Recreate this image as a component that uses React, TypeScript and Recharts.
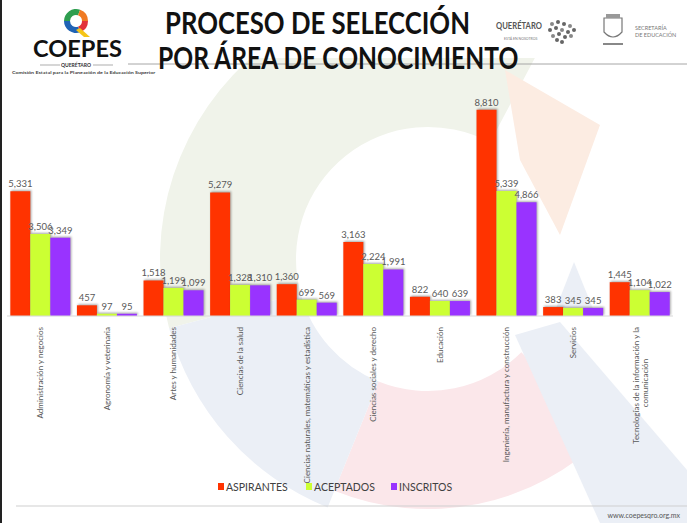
import React from 'react';
import { BarChart, Bar, XAxis, YAxis, LabelList } from 'recharts';

const categories = [
  'Administración y negocios',
  'Agronomía y veterinaria',
  'Artes y humanidades',
  'Ciencias de la salud',
  'Ciencias naturales, matemáticas y estadística',
  'Ciencias sociales y derecho',
  'Educación',
  'Ingeniería, manufactura y construcción',
  'Servicios',
  'Tecnologías de la información y la comunicación',
];
const aspirantes = [5331, 457, 1518, 5279, 1360, 3163, 822, 8810, 383, 1445];
const aceptados = [3506, 97, 1199, 1328, 699, 2224, 640, 5339, 345, 1104];
const inscritos = [3349, 95, 1099, 1310, 569, 1991, 639, 4866, 345, 1022];
const seriesNames = ['ASPIRANTES', 'ACEPTADOS', 'INSCRITOS'];
const seriesColors = ['#FF3300', '#CCFF33', '#9933FF'];
const wrappedLabels: Record<string, string[]> = {
  'Tecnologías de la información y la comunicación': ['Tecnologías de la información y la', 'comunicación'],
};

const data = categories.map((c, i) => ({
  cat: c,
  aspirantes: aspirantes[i],
  aceptados: aceptados[i],
  inscritos: inscritos[i],
}));
const keys = ['aspirantes', 'aceptados', 'inscritos'];

const FONT = 'Lato, "Open Sans", sans-serif';

let measureCtx: CanvasRenderingContext2D | null = null;
function measure(text: string, size: number, weight: number) {
  if (!measureCtx) {
    const c = document.createElement('canvas');
    measureCtx = c.getContext('2d');
  }
  if (!measureCtx) return text.length * size * 0.6;
  measureCtx.font = `${weight} ${size}px Lato, "Open Sans", sans-serif`;
  return measureCtx.measureText(text).width;
}

const FitText = ({ x, y, width, size, weight = 400, fill, children }: any) => {
  const natural = measure(children, size, weight);
  const sx = natural > 0 ? width / natural : 1;
  return (
    <text transform={`translate(${x},${y}) scale(${sx},1)`} fontSize={size} fontWeight={weight} fill={fill} fontFamily={FONT}>
      {children}
    </text>
  );
};

const CatTick = (props: any) => {
  const { x, y, payload } = props;
  const lines = wrappedLabels[payload.value];
  const ty = y + 3;
  if (lines) {
    return (
      <g>
        <text transform={`translate(${x - 4},${ty}) rotate(-90)`} textAnchor="end" dy="0.35em" fontSize={8} fill="#595959" fontFamily={FONT}>{lines[0]}</text>
        <text transform={`translate(${x + 5},${ty + 56}) rotate(-90)`} textAnchor="middle" dy="0.35em" fontSize={8} fill="#595959" fontFamily={FONT}>{lines[1]}</text>
      </g>
    );
  }
  return (
    <text transform={`translate(${x},${ty}) rotate(-90)`} textAnchor="end" dy="0.35em" fontSize={8} fill="#595959" fontFamily={FONT}>{payload.value}</text>
  );
};

const fmt = (v: any) => Number(v).toLocaleString('en-US');

function sector(cx: number, cy: number, r1: number, r2: number, a0: number, a1: number) {
  const rad = (a: number) => (a * Math.PI) / 180;
  const p = (r: number, a: number) => [cx + r * Math.cos(rad(a)), cy + r * Math.sin(rad(a))];
  const [x0, y0] = p(r2, a0);
  const [x1, y1] = p(r2, a1);
  const [x2, y2] = p(r1, a1);
  const [x3, y3] = p(r1, a0);
  const large = a1 - a0 > 180 ? 1 : 0;
  return `M${x0},${y0} A${r2},${r2} 0 ${large} 1 ${x1},${y1} L${x2},${y2} A${r1},${r1} 0 ${large} 0 ${x3},${y3} Z`;
}

export default function App() {
  return (
    <div style={{ position: 'absolute', left: 0, top: 0, width: 687, height: 523, background: '#fff', overflow: 'hidden', fontFamily: FONT }}>
      <style>{`.recharts-bar-rectangle path { filter: drop-shadow(1px -1px 1px rgba(0,0,0,0.35)); }`}</style>
      {/* watermark */}
      <svg width={687} height={523} style={{ position: 'absolute', left: 0, top: 0 }}>
        <defs>
          <clipPath id="wm">
            <rect x={0} y={58} width={687} height={465} />
          </clipPath>
        </defs>
        <g clipPath="url(#wm)">
          <path d={sector(428, 259, 132, 268, 165, 298)} fill="#F0F3EA" />
          <path d="M505,70 L600,125 L560,235 L520,160 Z" fill="#FCECE2" />
          <path d={sector(428, 259, 132, 250, 45, 112)} fill="#FBE7EA" />
          <path d={sector(428, 259, 132, 268, 112, 165)} fill="#EBEFF6" />
          <path d="M515,335 L560,322 L687,470 L687,523 L600,523 Z" fill="#EBEFF6" />
          <path d="M553,316 L574,262 L596,316 Z" fill="#EBEFF6" />
        </g>
      </svg>
      <div style={{ position: 'absolute', left: 0, top: 0 }}>
        <BarChart
          width={687}
          height={523}
          data={data}
          margin={{ top: 82, right: 14, left: 7, bottom: 47 }}
          barCategoryGap="5%"
          barGap={0}
        >
          <YAxis hide domain={[0, 10000]} />
          <XAxis
            dataKey="cat"
            height={160}
            interval={0}
            tickLine={false}
            axisLine={{ stroke: '#D9D9D9' }}
            tick={<CatTick />}
          />
          {keys.map((k, i) => (
            <Bar key={k} dataKey={k} name={seriesNames[i]} fill={seriesColors[i]} isAnimationActive={false}>
              <LabelList dataKey={k} position="top" offset={4} formatter={fmt} fill="#595959" fontSize={9.5} fontFamily={FONT} />
            </Bar>
          ))}
        </BarChart>
      </div>
      {/* header, legend, footer */}
      <svg width={687} height={523} style={{ position: 'absolute', left: 0, top: 0, pointerEvents: 'none' }}>
        <rect x={0} y={0} width={2} height={523} fill="#222" />
        <line x1={128} y1={64} x2={687} y2={64} stroke="#A6A6A6" strokeWidth={1} />
        <FitText x={165} y={34} width={305} size={30} weight={700} fill="#111">PROCESO DE SELECCIÓN</FitText>
        <FitText x={158} y={69} width={362} size={30} weight={700} fill="#111">POR ÁREA DE CONOCIMIENTO</FitText>
        {/* COEPES logo */}
        <g>
          <path d={sector(76, 21, 6, 12, 180, 290)} fill="#2E9E4F" />
          <path d={sector(76, 21, 6, 12, 290, 360)} fill="#F07A22" />
          <path d={sector(76, 21, 6, 12, 0, 70)} fill="#E2323A" />
          <path d={sector(76, 21, 6, 12, 70, 180)} fill="#1F63B5" />
          <path d="M80,28 L90,37 L84,37 L76,30 Z" fill="#F5C518" />
        </g>
        <FitText x={33} y={57} width={89} size={23} weight={700} fill="#111">COEPES</FitText>
        <line x1={40} y1={65} x2={60} y2={65} stroke="#777" strokeWidth={0.6} />
        <line x1={93} y1={65} x2={113} y2={65} stroke="#777" strokeWidth={0.6} />
        <text x={76} y={67} fontSize={5} fontWeight={700} fill="#333" textAnchor="middle" fontFamily={FONT}>QUERÉTARO</text>
        <FitText x={12} y={74} width={143} size={4.2} weight={700} fill="#444">Comisión Estatal para la Planeación de la Educación Superior</FitText>
        {/* Queretaro logo */}
        <FitText x={496} y={29} width={46} size={9} weight={700} fill="#555">QUERÉTARO</FitText>
        <text x={504} y={40} fontSize={3.5} fill="#777" fontFamily={FONT}>ESTÁ EN NOSOTROS</text>
        {[
          [552, 24], [558, 22], [564, 24], [570, 26], [550, 30], [556, 28], [562, 30], [568, 32], [574, 30],
          [553, 36], [559, 34], [565, 37], [571, 36], [562, 42], [557, 40],
        ].map(([cx, cy], i) => (
          <circle key={i} cx={cx} cy={cy} r={2} fill={i % 3 === 0 ? '#888' : '#666'} />
        ))}
        <path d="M604,18 L622,18 L622,32 Q613,42 604,32 Z" fill="none" stroke="#777" strokeWidth={1.2} />
        <rect x={606} y={14} width={14} height={4} fill="#999" />
        <line x1={603} y1={44} x2={623} y2={44} stroke="#888" strokeWidth={2} />
        <text x={635} y={30} fontSize={5.5} fill="#777" fontFamily={FONT}>SECRETARÍA</text>
        <text x={635} y={37} fontSize={5.5} fill="#777" fontFamily={FONT}>DE EDUCACIÓN</text>
        {/* legend */}
        {seriesNames.map((n, i) => {
          const xs = [218, 306, 391][i];
          return (
            <g key={n}>
              <rect x={xs} y={483} width={6} height={7} fill={seriesColors[i]} />
              <text x={xs + 8} y={490.5} fontSize={10.5} fill="#404040" fontFamily={FONT}>{n}</text>
            </g>
          );
        })}
        {/* footer */}
        <line x1={16} y1={506} x2={687} y2={506} stroke="#D0D0D0" strokeWidth={1.2} />
        <text x={680} y={518} fontSize={7} fill="#555" textAnchor="end" fontFamily={FONT}>www.coepesqro.org.mx</text>
      </svg>
    </div>
  );
}
